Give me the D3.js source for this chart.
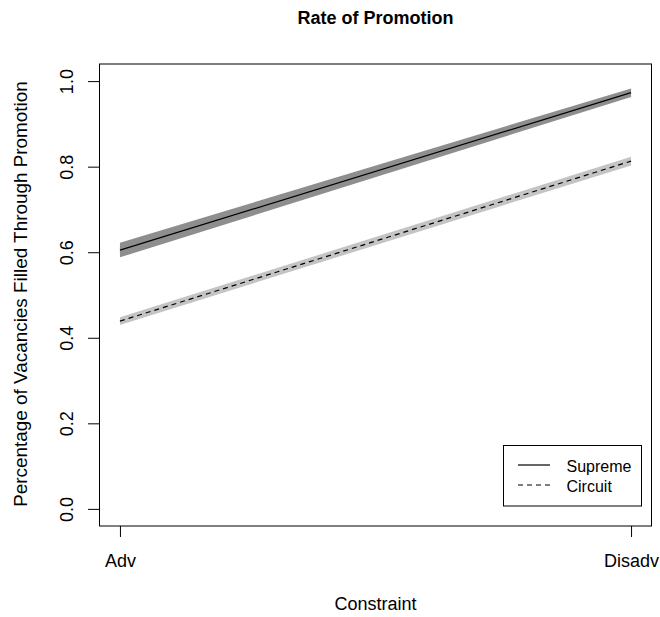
<!DOCTYPE html>
<html>
<head>
<meta charset="utf-8">
<script src="https://cdn.jsdelivr.net/npm/d3@7"></script>
<style>
  body { margin: 0; background: #fff; }
  text { font-family: "Liberation Sans", Arial, sans-serif; fill: #000; }
</style>
</head>
<body>
<script>
// values
var constraint = ["Adv", "Disadv"]
var supremeFit = [0.605, 0.973]
var supremeLo = [0.588, 0.963]
var supremeHi = [0.622, 0.983]
var circuitFit = [0.439, 0.813]
var circuitLo = [0.430, 0.803]
var circuitHi = [0.448, 0.823]
var yTicks = [0, 0.2, 0.4, 0.6, 0.8, 1.0]
var legendNames = ["Supreme", "Circuit"]

var W = 660, H = 617
var box = {left: 99.5, right: 651.5, top: 64, bottom: 526}
var fs = "18px"

var svg = d3.select("body").append("svg")
    .attr("width", W).attr("height", H)

// R style: 4% padding on each side
var x = d3.scaleLinear().domain([1 - 0.04, 2 + 0.04]).range([box.left, box.right])
var y = d3.scaleLinear().domain([-0.04, 1.04]).range([box.bottom, box.top])

var idx = [0, 1]

function drawBand(lo, hi, col) {
  var a = d3.area()
      .x(function (i) { return x(i + 1) })
      .y0(function (i) { return y(lo[i]) })
      .y1(function (i) { return y(hi[i]) })
  svg.append("path").attr("d", a(idx)).attr("fill", col).attr("stroke", "none")
}
function drawLine(vals, dash) {
  var l = d3.line()
      .x(function (i) { return x(i + 1) })
      .y(function (i) { return y(vals[i]) })
  svg.append("path").attr("d", l(idx))
      .attr("fill", "none").attr("stroke", "#000").attr("stroke-width", 1.2)
      .attr("stroke-dasharray", dash)
}

drawBand(supremeLo, supremeHi, "#8e8e8e")
drawBand(circuitLo, circuitHi, "#c4c4c4")
drawLine(supremeFit, null)
drawLine(circuitFit, "5,4")

// plot frame
svg.append("rect")
    .attr("x", box.left).attr("y", box.top)
    .attr("width", box.right - box.left).attr("height", box.bottom - box.top)
    .attr("fill", "none").attr("stroke", "#000").attr("stroke-width", 1)

// x axis
var xAxis = d3.axisBottom(x).tickValues([1, 2])
    .tickFormat(function (d) { return constraint[d - 1] })
    .tickSize(11).tickPadding(0)
var gx = svg.append("g").attr("transform", "translate(0," + box.bottom + ")").call(xAxis)
gx.select(".domain").remove()
gx.selectAll("line").attr("stroke", "#000")
gx.selectAll("text").style("font-size", fs).attr("fill", "#000")
    .attr("dy", null).attr("y", 41)

// y axis
var yAxis = d3.axisLeft(y).tickValues(yTicks).tickFormat(d3.format(".1f"))
    .tickSize(11.5).tickPadding(0)
var gy = svg.append("g").attr("transform", "translate(" + box.left + ",0)").call(yAxis)
gy.select(".domain").attr("d", "M0," + y(0) + "V" + y(1))
gy.selectAll("line").attr("stroke", "#000")
gy.selectAll("text")
    .style("font-size", fs).attr("fill", "#000")
    .attr("text-anchor", "middle")
    .attr("x", null).attr("dy", null).attr("y", null)
    .attr("transform", "translate(-26.5,0) rotate(-90)")

// titles
svg.append("text").attr("x", (box.left + box.right) / 2).attr("y", 24)
    .attr("text-anchor", "middle").style("font-size", fs).style("font-weight", "bold")
    .text("Rate of Promotion")
svg.append("text").attr("x", (box.left + box.right) / 2).attr("y", 610)
    .attr("text-anchor", "middle").style("font-size", fs)
    .text("Constraint")
svg.append("text")
    .attr("transform", "translate(26.5,294) rotate(-90)")
    .attr("text-anchor", "middle").style("font-size", "18.9px")
    .text("Percentage of Vacancies Filled Through Promotion")

// legend
var lg = svg.append("g")
lg.append("rect").attr("x", 503.5).attr("y", 445.5).attr("width", 138).attr("height", 60.5)
    .attr("fill", "#fff").attr("stroke", "#000")
var dashes = [null, "5,4"]
legendNames.forEach(function (n, i) {
  var yy = 465 + i * 20
  lg.append("line").attr("x1", 518).attr("x2", 550).attr("y1", yy).attr("y2", yy)
      .attr("stroke", "#000").attr("stroke-width", 1.2).attr("stroke-dasharray", dashes[i])
  lg.append("text").attr("x", 566.5).attr("y", yy + 7).style("font-size", "16px").text(n)
})
</script>
</body>
</html>
